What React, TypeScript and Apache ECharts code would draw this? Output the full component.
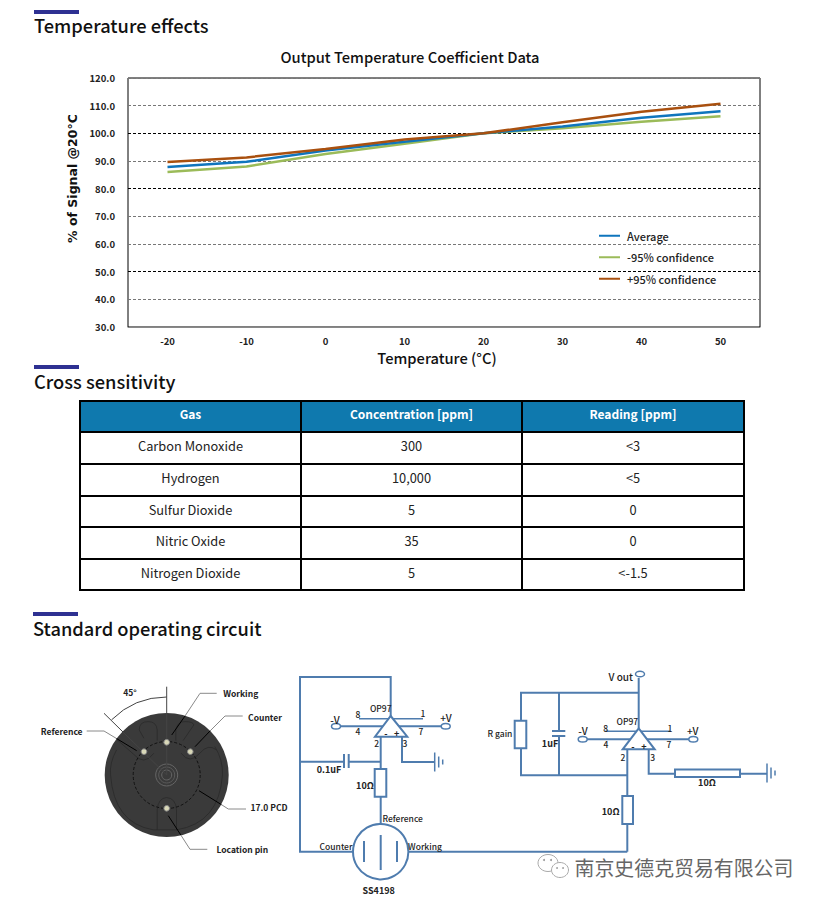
import React, { useEffect, useRef } from "react";
import * as echarts from "echarts";

const temperatures = ["-20", "-10", "0", "10", "20", "30", "40", "50"];
const averageValues = [87.8, 89.7, 93.8, 97, 100, 102.5, 105.6, 108];
const lowerValues = [86, 88, 92.5, 96.2, 100, 101.8, 104.2, 106.2];
const upperValues = [89.6, 91.3, 94.3, 97.8, 100, 104, 107.8, 110.7];
const seriesNames = ["Average", "-95% confidence", "+95% confidence"];
const seriesColors = ["#0f75bd", "#9bbb59", "#a9500f"];
const gridColors = ["#777", "#777", "#000", "#777", "#777", "#000", "#777", "#000", "#777", "#777"];

const tableHeader = ["Gas", "Concentration [ppm]", "Reading [ppm]"];
const gases = ["Carbon Monoxide", "Hydrogen", "Sulfur Dioxide", "Nitric Oxide", "Nitrogen Dioxide"];
const concentrations = ["300", "10,000", "5", "35", "5"];
const readings = ["<3", "<5", "0", "0", "<-1.5"];
const sectionTitles = ["Temperature effects", "Cross sensitivity", "Standard operating circuit"];

const tableCols = [80, 301, 522, 744];
const tableRowsY = [401, 432, 464, 496, 527, 559, 590];

const WIRE = "#4f7cae";
const LEAD = "#8a8a8a";
const TITLE_FONT = '"Noto Sans CJK KR"';
const LABEL_FONT = '"Noto Sans CJK KR"';

const outlinePath =
  "M290 300 Q268 340 272 375 Q282 520 400 540 L470 540 Q598 520 608 375 Q610 330 585 290 " +
  "M412 540 L412 480 Q415 445 440 443 Q468 445 470 480 L470 540 " +
  "M412 272 L412 240 Q410 215 385 215 Q358 215 358 240 L372 265 " +
  "M468 272 L468 240 Q472 215 495 215 Q520 215 522 225 L490 272 " +
  "M290 268 L340 312 Q372 350 402 310 " +
  "M590 300 Q565 280 540 310 Q510 345 484 310";
echarts.graphic.registerShape("sensorOutline", echarts.graphic.extendPath(outlinePath, {}));

function ln(x1: number, y1: number, x2: number, y2: number, stroke = WIRE, lineWidth = 2) {
  return { type: "line", shape: { x1, y1, x2, y2 }, style: { stroke, lineWidth } };
}
function poly(points: number[][], stroke = WIRE, lineWidth = 2) {
  return { type: "polyline", shape: { points }, style: { stroke, lineWidth, fill: "none" } };
}
function box(x: number, y: number, width: number, height: number, fill: string, stroke = WIRE, lineWidth = 2) {
  return { type: "rect", shape: { x, y, width, height }, style: { fill, stroke, lineWidth } };
}
function oval(cx: number, cy: number) {
  return { type: "ellipse", shape: { cx, cy, rx: 4.5, ry: 2.8 }, style: { fill: "#fff", stroke: WIRE, lineWidth: 1.5 } };
}
function txt(text: string, x: number, y: number, font: string, fill = "#222", align = "center") {
  return { type: "text", style: { text, x, y, font, fill, align, verticalAlign: "middle" } };
}
function ground(x: number, y: number) {
  return [
    ln(x, y - 9.5, x, y + 9.5, WIRE, 1.5),
    ln(x + 4, y - 5.5, x + 4, y + 5.5, WIRE, 1.5),
    ln(x + 8, y - 2.5, x + 8, y + 2.5, WIRE, 1.5),
  ];
}
function opAmp(ax: number, ay: number, bl: number, br: number, by: number) {
  return { type: "polygon", shape: { points: [[ax, ay], [br, by], [bl, by]] }, style: { fill: "#fff", stroke: WIRE, lineWidth: 2 } };
}

function sectionGraphics() {
  const out: any[] = [];
  const bars = [[34, 10], [34, 365], [33, 612]];
  const ys = [25, 381, 627.5];
  sectionTitles.forEach((t, i) => {
    out.push({ type: "rect", shape: { x: bars[i][0], y: bars[i][1], width: 45, height: 4 }, style: { fill: "#2e3192" } });
    out.push(txt(t, bars[i][0], ys[i], `500 18.3px ${TITLE_FONT}`, "#111", "left"));
  });
  return out;
}

function tableGraphics() {
  const out: any[] = [];
  out.push({
    type: "rect",
    shape: { x: tableCols[0], y: tableRowsY[0], width: tableCols[3] - tableCols[0], height: tableRowsY[1] - tableRowsY[0] },
    style: { fill: "#0f79ae" },
  });
  tableRowsY.forEach((y) => out.push(ln(tableCols[0] - 1, y, tableCols[3] + 1, y, "#000", 2)));
  tableCols.forEach((x) => out.push(ln(x, tableRowsY[0], x, tableRowsY[6], "#000", 2)));
  const centers = [190.5, 411.5, 633];
  tableHeader.forEach((t, c) =>
    out.push(txt(t, centers[c], (tableRowsY[0] + tableRowsY[1]) / 2 - 3, `700 12px ${TITLE_FONT}`, "#fff"))
  );
  [gases, concentrations, readings].forEach((col, c) =>
    col.forEach((t, r) =>
      out.push(txt(t, centers[c], (tableRowsY[r + 1] + tableRowsY[r + 2]) / 2 - 2.5, `400 12.8px ${TITLE_FONT}`, "#222"))
    )
  );
  return out;
}

function sensorGraphics() {
  const cx = 166.7, cy = 775;
  const holes = [[144, 751.7], [166.7, 742.3], [190.3, 751.7], [166.7, 808.3]];
  const out: any[] = [
    { type: "circle", shape: { cx, cy, r: 62 }, style: { fill: "#3a3a3a" } },
    { type: "sensorOutline", x: 20, y: 650, scaleX: 1 / 3, scaleY: 1 / 3, style: { fill: "none", stroke: "#2a2a2a", lineWidth: 2.5 } },
    { type: "circle", shape: { cx, cy, r: 33.5 }, style: { fill: "none", stroke: "#111", lineWidth: 1, lineDash: [3, 2] } },
    { type: "circle", shape: { cx, cy, r: 11 }, style: { fill: "none", stroke: "#666", lineWidth: 1 } },
    { type: "circle", shape: { cx, cy, r: 8 }, style: { fill: "none", stroke: "#5a5a5a", lineWidth: 1 } },
    { type: "circle", shape: { cx, cy, r: 5 }, style: { fill: "none", stroke: "#666", lineWidth: 1 } },
    ln(cx, 686.7, cx, cy, "#444", 1),
    ln(104, 713.3, cx, cy, "#444", 1),
    { type: "arc", shape: { cx, cy, r: 78, startAngle: (-3 * Math.PI) / 4, endAngle: -Math.PI / 2, clockwise: true }, style: { fill: "none", stroke: "#444", lineWidth: 1 } },
    poly([[216.7, 693.3], [200, 693.3], [185, 716]], LEAD, 1),
    ln(185, 716, 171.7, 735, "#000", 1),
    poly([[242.7, 716], [225, 716], [210, 731]], LEAD, 1),
    ln(210, 731, 195, 746.7, "#000", 1),
    poly([[86.7, 731], [104, 731], [116.5, 738.5]], LEAD, 1),
    ln(116.5, 738.5, 136.7, 750.7, "#000", 1),
    poly([[246, 809], [228.3, 809], [221.5, 804.7]], LEAD, 1),
    ln(221.5, 804.7, 199, 790.7, "#000", 1),
    poly([[207.3, 849.3], [190, 849.3], [180.8, 835]], LEAD, 1),
    ln(180.8, 835, 168.3, 815.7, "#000", 1),
  ];
  holes.forEach(([x, y]) => {
    out.push({ type: "circle", shape: { cx: x, cy: y, r: 2.8 }, style: { fill: "#d9d8b8", stroke: "#888", lineWidth: 1 } });
  });
  const f = `700 8.5px ${LABEL_FONT}`;
  out.push(
    txt("45°", 130, 692, f),
    txt("Working", 240.7, 692.7, f),
    txt("Counter", 265, 716.7, f),
    txt("Reference", 61.7, 730.7, f),
    txt("17.0 PCD", 269, 807.3, f),
    txt("Location pin", 242.3, 849.3, f)
  );
  return out;
}

function circuitGraphics() {
  const f = `500 8.5px ${LABEL_FONT}`;
  const b = `700 9px ${LABEL_FONT}`;
  const big = `500 10px ${LABEL_FONT}`;
  return [
    // left amplifier
    poly([[390.7, 716], [390.7, 677], [300, 677], [300, 851.7], [353, 851.7]]),
    ln(408, 851.7, 627.3, 851.7),
    poly([[627.3, 851.7], [627.3, 824]]),
    ln(340, 726.3, 441, 726.3),
    ln(359, 718.7, 423, 718.7, WIRE, 1.5),
    opAmp(390.7, 716, 375, 407.3, 736.7),
    oval(336, 726.3),
    oval(445.7, 726.3),
    txt("-", 386, 733, b),
    txt("+", 396.7, 733, b),
    ln(380.7, 737, 380.7, 769),
    ln(300, 761.7, 344, 761.7),
    ln(344, 754, 344, 768),
    ln(348.7, 754, 348.7, 768),
    ln(348.7, 761.7, 380.7, 761.7),
    poly([[402, 737], [402, 762], [434.7, 762]]),
    ...ground(434.7, 762),
    box(374.7, 769, 11.6, 27.7, "#fff"),
    ln(380.7, 796.7, 380.7, 824),
    { type: "circle", shape: { cx: 380.7, cy: 851.7, r: 27.7 }, style: { fill: "#fff", stroke: WIRE, lineWidth: 2 } },
    ln(364, 841, 364, 862),
    ln(380.7, 835, 380.7, 870),
    ln(397, 841, 397, 862),
    txt("OP97", 380.7, 708, f),
    txt("8", 358, 714, f),
    txt("1", 423, 713, f),
    txt("-V", 335, 719, big),
    txt("+V", 446, 717, big),
    txt("4", 358, 731, f),
    txt("7", 421, 731, f),
    txt("2", 376.7, 743, f),
    txt("3", 405, 743, f),
    txt("0.1uF", 329, 769, b),
    txt("10Ω", 365, 785, b),
    txt("Reference", 402.7, 818, f),
    txt("Counter", 336, 846, f),
    txt("Working", 425, 846, f),
    txt("SS4198", 378.7, 890, b),
    // right amplifier
    ln(638.7, 678, 638.7, 728.3),
    oval(640, 674),
    poly([[638.7, 692.7], [521, 692.7], [521, 775.3], [627.3, 775.3]]),
    box(514.7, 720.7, 11.6, 27.6, "#fff"),
    ln(559, 692.7, 559, 731),
    ln(552, 731, 565.3, 731),
    ln(552, 736, 565.3, 736),
    ln(559, 736, 559, 775.3),
    ln(587, 739.3, 689, 739.3),
    ln(605.3, 731.3, 670, 731.3, WIRE, 1.5),
    opAmp(638.7, 728.3, 622.7, 654.7, 749.3),
    oval(582.7, 739.3),
    oval(693.3, 739.3),
    txt("-", 633, 746, b),
    txt("+", 644, 746, b),
    ln(627.3, 749, 627.3, 796),
    box(622.3, 796, 10.7, 28, "#fff"),
    poly([[648.7, 749], [648.7, 773.7], [767, 773.7]]),
    ...ground(767, 773),
    box(675, 769.5, 65, 7.5, "#fff"),
    txt("R gain", 500, 733, f),
    txt("1uF", 550, 743, b),
    txt("V out", 620.7, 676.7, big),
    txt("OP97", 627.3, 721, f),
    txt("8", 605.7, 728, f),
    txt("1", 670, 728, f),
    txt("-V", 583, 730.7, big),
    txt("+V", 692.7, 730.7, big),
    txt("4", 606, 744, f),
    txt("7", 669, 743.7, f),
    txt("2", 623, 756.7, f),
    txt("3", 652.7, 756.7, f),
    txt("10Ω", 610.7, 811.7, b),
    txt("10Ω", 707, 782.7, b),
  ];
}

function watermarkGraphics() {
  return [
    { type: "ellipse", shape: { cx: 548, cy: 863, rx: 10, ry: 8.5 }, style: { fill: "#fff", stroke: "#aaa", lineWidth: 1 } },
    { type: "ellipse", shape: { cx: 560, cy: 870, rx: 8.5, ry: 7.5 }, style: { fill: "#fff", stroke: "#aaa", lineWidth: 1 } },
    { type: "circle", shape: { cx: 544, cy: 860, r: 1 }, style: { fill: "#999" } },
    { type: "circle", shape: { cx: 551, cy: 860, r: 1 }, style: { fill: "#999" } },
    { type: "circle", shape: { cx: 557, cy: 868, r: 0.9 }, style: { fill: "#999" } },
    { type: "circle", shape: { cx: 563, cy: 868, r: 0.9 }, style: { fill: "#999" } },
    txt("南京史德克贸易有限公司", 684, 867, `400 19.9px "Noto Sans CJK SC"`, "#666"),
  ];
}

export default function App() {
  const ref = useRef<HTMLDivElement>(null);
  useEffect(() => {
    document.body.style.margin = "0";
    const chart = echarts.init(ref.current!, undefined, { renderer: "svg" });
    chart.setOption({
      animation: false,
      backgroundColor: "#fff",
      title: {
        text: "Output Temperature Coefficient Data",
        left: 405,
        top: 44,
        textAlign: "center",
        textStyle: { fontFamily: TITLE_FONT, fontSize: 14.7, fontWeight: 500, color: "#111" },
      },
      grid: { left: 128, right: 61, top: 78, height: 249, show: true, borderColor: "#000", borderWidth: 1, backgroundColor: "transparent" },
      legend: {
        orient: "vertical",
        left: 594,
        top: 224,
        itemWidth: 21,
        itemHeight: 2,
        itemGap: 8,
        icon: "rect",
        data: seriesNames,
        textStyle: { fontFamily: LABEL_FONT, fontSize: 11, fontWeight: 500, color: "#222", lineHeight: 13.5, padding: [0, 0, 0, 2] },
      },
      xAxis: {
        type: "category",
        data: temperatures,
        boundaryGap: true,
        name: "Temperature (°C)",
        nameLocation: "middle",
        nameGap: 23,
        nameTextStyle: { fontFamily: TITLE_FONT, fontSize: 14.7, fontWeight: 500, color: "#111", padding: [0, 14, 0, 0] },
        axisLine: { lineStyle: { color: "#888" } },
        axisTick: { alignWithLabel: true, inside: true, length: 3, lineStyle: { color: "#888" } },
        axisLabel: { fontFamily: LABEL_FONT, fontSize: 9.5, fontWeight: 700, color: "#222", margin: 9 },
        splitLine: { show: false },
      },
      yAxis: {
        type: "value",
        min: 30,
        max: 120,
        interval: 10,
        name: "% of Signal @20°C",
        nameLocation: "middle",
        nameGap: 49,
        nameTextStyle: { fontFamily: "DejaVu Sans", fontSize: 12.5, fontWeight: 700, color: "#111", padding: [0, 0, 0, 48] },
        axisLine: { show: false },
        axisTick: { show: false },
        axisLabel: { formatter: (v: number) => v.toFixed(1), fontFamily: LABEL_FONT, fontSize: 9.5, fontWeight: 700, color: "#222", margin: 13 },
        splitLine: { show: true, lineStyle: { type: [3, 2], color: gridColors, width: 1 } },
      },
      series: [averageValues, lowerValues, upperValues]
        .map((data, i) => ({
          name: seriesNames[i],
          type: "line",
          data,
          showSymbol: false,
          symbol: "none",
          color: seriesColors[i],
          lineStyle: { color: seriesColors[i], width: 2.5 },
          z: i === 0 ? 3 : i === 1 ? 2 : 4,
        })),
      graphic: {
        elements: [
          ...sectionGraphics(),
          ...tableGraphics(),
          ...sensorGraphics(),
          ...circuitGraphics(),
          ...watermarkGraphics(),
        ],
      },
    });
    return () => chart.dispose();
  }, []);
  return <div ref={ref} style={{ width: 821, height: 903 }} />;
}
